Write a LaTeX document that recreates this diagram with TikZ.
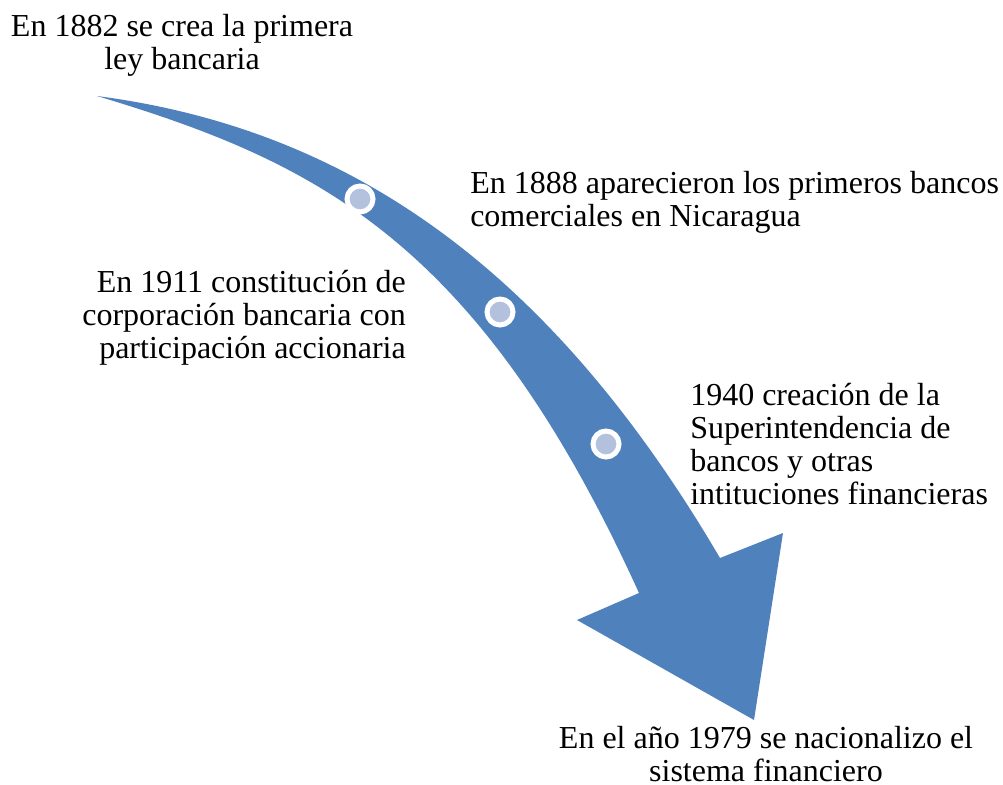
\documentclass[tikz,border=0pt]{standalone}
\usepackage{fontspec}
\setmainfont{Liberation Serif}
\usepackage{tikz}
\usetikzlibrary{positioning}
\definecolor{arrowblue}{HTML}{4F81BD}
\definecolor{dotblue}{HTML}{B3C1DD}

\begin{document}
\begin{tikzpicture}[x=0.75pt,y=-0.75pt,
	label text/.style={inner sep=0pt,font=\fontsize{24}{24.75}\selectfont},
	year dot/.style={circle,fill=dotblue,draw=white,line width=3.75pt,minimum size=19.5pt,inner sep=0pt}]
	\useasboundingbox (0,0) rectangle (1003,785);

	% curved arrow
	\fill[arrowblue] (97,96) .. controls (357,130) and (555,277) .. (720,558)
	  -- (783,533) -- (754,720) -- (577,620) -- (639,593)
	  .. controls (479,241) and (317,162) .. (97,96) -- cycle;

	\node[year dot] (d1) at (360,199) {};
	\node[year dot] (d2) at (500,312) {};
	\node[year dot] (d3) at (606,444) {};

	\node[label text,align=center,anchor=north] (t1882) at (182,14)
	  {En 1882 se crea la primera\\ley bancaria};
	\node[label text,align=left,anchor=north west] (t1888) at (470,171)
	  {En 1888 aparecieron los primeros bancos\\comerciales en Nicaragua};
	\node[label text,align=right,anchor=north east] (t1911) at (406,270)
	  {En 1911 constitución de\\corporación bancaria con\\participación accionaria};
	\node[label text,align=left,anchor=north west] (t1940) at (690,383)
	  {1940 creación de la\\Superintendencia de\\bancos y otras\\intituciones financieras};
	\node[label text,align=center,anchor=north] (t1979) at (766,726)
	  {En el año 1979 se nacionalizo el\\sistema financiero};
\end{tikzpicture}
\end{document}
